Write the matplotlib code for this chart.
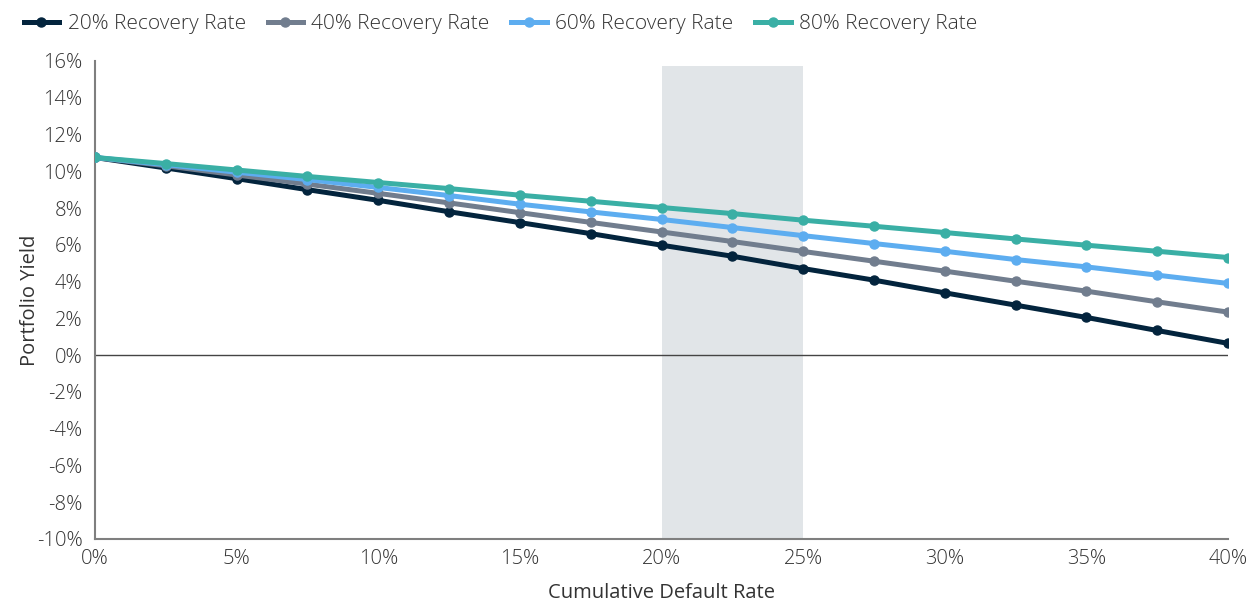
import matplotlib.pyplot as plt
from matplotlib.ticker import FuncFormatter

plt.rcParams['font.family'] = ['Open Sans', 'DejaVu Sans']
plt.rcParams['font.weight'] = 'light'

# data
default_rate = [0, 2.5, 5, 7.5, 10, 12.5, 15, 17.5, 20, 22.5, 25, 27.5, 30, 32.5, 35, 37.5, 40]
rr20 = [10.75, 10.18, 9.6, 9.0, 8.42, 7.8, 7.21, 6.61, 5.98, 5.38, 4.71, 4.08, 3.39, 2.72, 2.05, 1.34, 0.64]
rr40 = [10.75, 10.3, 9.8, 9.3, 8.8, 8.28, 7.75, 7.22, 6.7, 6.18, 5.64, 5.11, 4.57, 4.02, 3.48, 2.9, 2.34]
rr60 = [10.75, 10.36, 9.95, 9.55, 9.12, 8.68, 8.21, 7.79, 7.38, 6.94, 6.5, 6.07, 5.65, 5.2, 4.8, 4.35, 3.9]
rr80 = [10.75, 10.42, 10.07, 9.72, 9.39, 9.06, 8.7, 8.37, 8.03, 7.7, 7.34, 7.01, 6.67, 6.32, 5.98, 5.65, 5.31]
labels = ["20% Recovery Rate", "40% Recovery Rate", "60% Recovery Rate", "80% Recovery Rate"]
colors = ["#03243d", "#717d8e", "#5dadf0", "#3aafa5"]
band = (20, 25)
band_top = 15.7

fig = plt.figure(figsize=(12.6, 6.02), dpi=100)
ax = fig.add_axes([0.0754, 0.1047, 0.8992, 0.794])

ax.fill_betweenx([-10, band_top], band[0], band[1], color="#e1e5e8", lw=0, zorder=0)
ax.axhline(0, color="#444444", lw=1, zorder=1)

for ys, lab, c in zip([rr20, rr40, rr60, rr80], labels, colors):
    ax.plot(default_rate, ys, color=c, lw=3.6, marker="o", ms=6.5, label=lab, zorder=3)

ax.set_xlim(0, 40)
ax.set_ylim(-10, 16)
ax.set_xticks(range(0, 41, 5))
ax.set_yticks(range(-10, 17, 2))
ax.xaxis.set_major_formatter(FuncFormatter(lambda v, p: f"{v:.0f}%"))
ax.yaxis.set_major_formatter(FuncFormatter(lambda v, p: f"{v:.0f}%"))
ax.tick_params(length=0, labelsize=14.5, colors="#333333")
ax.tick_params(axis="x", pad=7)
ax.tick_params(axis="y", pad=9)

for s in ["top", "right"]:
    ax.spines[s].set_visible(False)
for s in ["left", "bottom"]:
    ax.spines[s].set_color("#7f7f7f")
    ax.spines[s].set_linewidth(1.5)

ax.set_xlabel("Cumulative Default Rate", fontsize=14.5, color="#333333", labelpad=10)
ax.set_ylabel("Portfolio Yield", fontsize=14.5, color="#333333", labelpad=-2)

fig.legend(loc="upper left", bbox_to_anchor=(0.004, 1.008), ncol=4, frameon=False,
           fontsize=15, handlelength=1.7, handletextpad=0.4, columnspacing=1.05,
           labelcolor="#333333")

fig.savefig("out.png", dpi=100)
